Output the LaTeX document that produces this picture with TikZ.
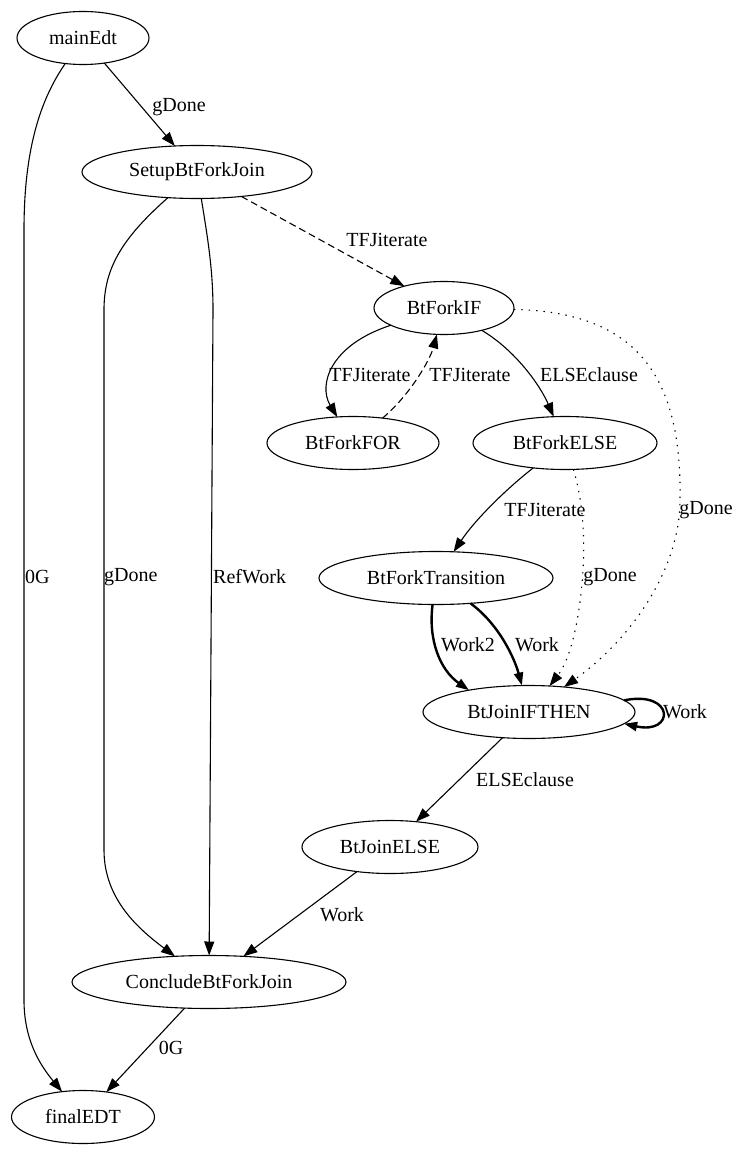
\documentclass[tikz,border=0pt]{standalone}
\usepackage{fontspec}
\setmainfont{Liberation Serif}
\usetikzlibrary{arrows.meta,shapes.geometric}
\begin{document}
\begin{tikzpicture}[x=1pt,y=-1pt,
  every node/.style={font=\fontsize{20}{24}\selectfont},
  state/.style={draw, ellipse, line width=1.1pt, minimum height=53pt, inner sep=0pt, outer sep=0pt},
  lbl/.style={inner sep=0pt},
  edge/.style={line width=1.1pt, -{Triangle[length=14pt,width=10pt]}},
  heavy/.style={edge, line width=2.4pt, -{Triangle[length=13pt,width=9pt]}},
  dashedge/.style={edge, dash pattern=on 7pt off 4pt},
  dotedge/.style={edge, dash pattern=on 1.4pt off 6pt}]
\useasboundingbox (0,0) rectangle (755,1153);

% nodes
\node[state, minimum width=132pt] (mainEdt) at (83,38) {mainEdt};
\node[state, minimum width=230pt] (setup) at (197,172) {SetupBtForkJoin};
\node[state, minimum width=140pt] (forkIF) at (444,308) {BtForkIF};
\node[state, minimum width=172pt] (forkFOR) at (353,443) {BtForkFOR};
\node[state, minimum width=184pt] (forkELSE) at (565,443) {BtForkELSE};
\node[state, minimum width=234pt] (forkTrans) at (436,578) {BtForkTransition};
\node[state, minimum width=212pt] (joinIFTHEN) at (529,712) {BtJoinIFTHEN};
\node[state, minimum width=176pt] (joinELSE) at (390,847) {BtJoinELSE};
\node[state, minimum width=274pt] (conclude) at (209,982) {ConcludeBtForkJoin};
\node[state, minimum width=143pt] (finalEDT) at (83,1117) {finalEDT};

% edges
\draw[edge] (mainEdt) -- (setup);
\draw[edge] (mainEdt) .. controls (40,100) and (24,150) .. (24,230)
  -- (24,1000) .. controls (24,1040) and (40,1065) .. (finalEDT);
\draw[edge] (setup) .. controls (120,240) and (104,270) .. (104,310)
  -- (104,850) .. controls (104,900) and (140,930) .. (conclude);
\draw[edge] (setup) .. controls (208,240) and (213,270) .. (213,310) -- (conclude);
\draw[dashedge] (setup) -- (forkIF);
\draw[edge] (forkIF) .. controls (330,345) and (318,385) .. (forkFOR);
\draw[dashedge] (forkFOR) .. controls (410,395) and (430,360) .. (forkIF);
\draw[edge] (forkIF) .. controls (515,350) and (540,385) .. (forkELSE);
\draw[dotedge] (forkIF) .. controls (640,312) and (682,380) .. (680,500)
  .. controls (680,570) and (630,640) .. (joinIFTHEN);
\draw[edge] (forkELSE) .. controls (505,490) and (475,520) .. (forkTrans);
\draw[dotedge] (forkELSE) .. controls (583,500) and (585,540) .. (583,570)
  .. controls (580,620) and (570,660) .. (joinIFTHEN);
\draw[heavy] (forkTrans) .. controls (428,640) and (440,670) .. (joinIFTHEN.160);
\draw[heavy] (forkTrans) .. controls (500,625) and (515,660) .. (joinIFTHEN.105);
\draw[heavy] (joinIFTHEN.7) .. controls (675,690) and (675,735) .. (joinIFTHEN.-7);
\draw[edge] (joinIFTHEN) -- (joinELSE);
\draw[edge] (joinELSE) -- (conclude);
\draw[edge] (conclude) -- (finalEDT);

% edge labels
\node[lbl] (l1) at (179,107) {gDone};
\node[lbl, anchor=west] (l2) at (25,577) {0G};
\node[lbl, anchor=west] (l3) at (104,577) {gDone};
\node[lbl, anchor=west] (l4) at (213,577) {RefWork};
\node[lbl] (l5) at (387,240) {TFJiterate};
\node[lbl] (l6) at (370,375) {TFJiterate};
\node[lbl] (l7) at (470,375) {TFJiterate};
\node[lbl] (l8) at (589,375) {ELSEclause};
\node[lbl] (l9) at (706,510) {gDone};
\node[lbl] (l10) at (545,510) {TFJiterate};
\node[lbl] (l11) at (610,577) {gDone};
\node[lbl] (l12) at (468,645) {Work2};
\node[lbl] (l13) at (537,645) {Work};
\node[lbl] (l14) at (685,712) {Work};
\node[lbl] (l15) at (525,780) {ELSEclause};
\node[lbl] (l16) at (342,915) {Work};
\node[lbl] (l17) at (171,1048) {0G};
\end{tikzpicture}
\end{document}
